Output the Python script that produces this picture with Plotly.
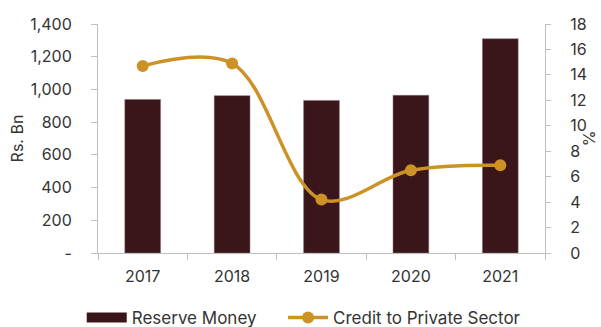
import plotly.graph_objects as go

# Reserve money (Rs. Bn) and growth of credit to the private sector (%)
years = ["2017", "2018", "2019", "2020", "2021"]
reserve_money = [939, 962, 933, 964, 1310]
private_credit = [14.7, 14.9, 4.2, 6.5, 6.9]

left_tickvals = [0, 200, 400, 600, 800, 1000, 1200, 1400]
left_ticktext = ["-", "200", "400", "600", "800", "1,000", "1,200", "1,400"]
right_tickvals = [0, 2, 4, 6, 8, 10, 12, 14, 16, 18]

BAR_COLOR = "#3A161B"
LINE_COLOR = "#CC9226"
AXIS_COLOR = "#BFBFBF"
TEXT_COLOR = "#333333"
FONT = "Inter"

fig = go.Figure()
fig.add_trace(go.Bar(
    x=years, y=reserve_money, name="Reserve Money", showlegend=False,
    marker=dict(color=BAR_COLOR, line=dict(color="#8a6f72", width=0.5)),
    width=0.4,
))
# wide flat swatch for the bar series in the legend
fig.add_trace(go.Scatter(
    x=[None], y=[None], name="Reserve Money", mode="lines",
    line=dict(color=BAR_COLOR, width=10), legend="legend",
))
fig.add_trace(go.Scatter(
    x=years, y=private_credit, name="Credit to Private Sector", yaxis="y2",
    mode="lines+markers",
    line=dict(color=LINE_COLOR, width=3.5, shape="spline", smoothing=1),
    marker=dict(color=LINE_COLOR, size=12), legend="legend2",
))

axis_font = dict(family=FONT, size=16, color=TEXT_COLOR)
legend_common = dict(orientation="h", xref="container", yref="container",
                     xanchor="left", y=0.028, yanchor="middle",
                     font=dict(family=FONT, size=17, color=TEXT_COLOR),
                     itemwidth=40)
fig.update_layout(
    width=601, height=327,
    margin=dict(l=98, r=56, t=24, b=74, autoexpand=False),
    paper_bgcolor="white", plot_bgcolor="white",
    font=dict(family=FONT, size=16, color=TEXT_COLOR),
    showlegend=True,
    legend=dict(x=0.136, **legend_common),
    legend2=dict(x=0.471, **legend_common),
    bargap=0.6,
    xaxis=dict(
        type="category", showline=True, linecolor=AXIS_COLOR, linewidth=1,
        ticks="outside", tickson="boundaries", ticklen=6, tickcolor=AXIS_COLOR,
        tickfont=axis_font, showgrid=False, zeroline=False,
        ticklabelstandoff=9,
    ),
    yaxis=dict(
        range=[0, 1400], tickvals=left_tickvals, ticktext=left_ticktext,
        showline=True, linecolor=AXIS_COLOR, linewidth=1,
        ticks="outside", ticklen=6, tickcolor=AXIS_COLOR,
        tickfont=axis_font, showgrid=False, zeroline=False,
        ticklabelstandoff=16,
        title=dict(text="Rs. Bn", font=axis_font, standoff=2),
    ),
    yaxis2=dict(
        range=[0, 18], tickvals=right_tickvals, overlaying="y", side="right",
        showline=True, linecolor=AXIS_COLOR, linewidth=1,
        ticks="outside", ticklen=5, tickcolor=AXIS_COLOR,
        tickfont=axis_font, showgrid=False, zeroline=False,
        ticklabelstandoff=16,
    ),
    annotations=[dict(
        text="%", xref="paper", yref="paper", x=1.098, y=0.5,
        xanchor="center", yanchor="middle", textangle=-90, showarrow=False,
        font=axis_font,
    )],
)

fig.write_html("out.html")
